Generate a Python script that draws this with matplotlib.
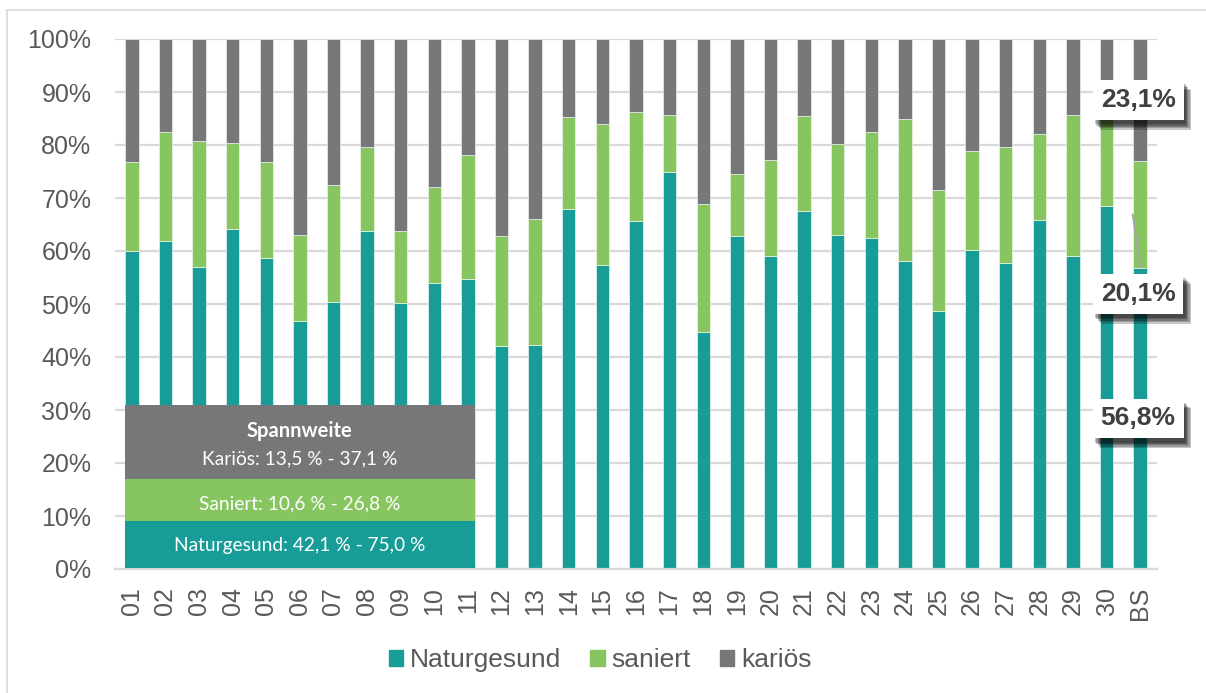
import matplotlib
matplotlib.use("Agg")
import matplotlib.pyplot as plt
import matplotlib.patheffects as pe
from matplotlib.patches import Patch, Rectangle
from matplotlib.lines import Line2D
import numpy as np

plt.rcParams['font.family'] = ['Liberation Sans', 'DejaVu Sans']

# Anteile je Schule in Prozent
schulen = ['01', '02', '03', '04', '05', '06', '07', '08', '09', '10',
           '11', '12', '13', '14', '15', '16', '17', '18', '19', '20',
           '21', '22', '23', '24', '25', '26', '27', '28', '29', '30', 'BS']
naturgesund = [60.0, 61.8, 56.9, 64.1, 58.7, 46.7, 50.4, 63.8, 50.1, 53.9,
               54.7, 42.1, 42.3, 67.9, 57.3, 65.6, 75.0, 44.8, 62.9, 59.1,
               67.5, 63.1, 62.5, 58.1, 48.7, 60.2, 57.7, 65.8, 59.1, 68.4, 56.8]
saniert = [16.7, 20.7, 23.9, 16.3, 18.1, 16.3, 22.1, 15.8, 13.7, 18.2,
           23.4, 20.8, 23.7, 17.3, 26.7, 20.7, 10.6, 24.1, 11.6, 18.0,
           18.0, 17.0, 20.0, 26.8, 22.8, 18.6, 22.0, 16.2, 26.6, 18.1, 20.1]
karioes = [23.3, 17.5, 19.2, 19.6, 23.2, 37.0, 27.5, 20.4, 36.2, 27.9,
           21.9, 37.1, 34.0, 14.8, 16.0, 13.7, 14.4, 31.1, 25.5, 22.9,
           14.5, 19.9, 17.5, 15.1, 28.5, 21.2, 20.3, 18.0, 14.3, 13.5, 23.1]

spannweite = ['Kariös: 13,5 % - 37,1 %', 'Saniert: 10,6 % - 26,8 %',
              'Naturgesund: 42,1 % - 75,0 %']

TEAL = '#179c97'
GREEN = '#86c55f'
GREY = '#767779'
TXT = '#595959'

fig = plt.figure(figsize=(12.06, 6.93), dpi=100)
ax = fig.add_axes([115 / 1206, 1 - 569 / 693, 1042 / 1206, 530 / 693])

x = np.arange(len(schulen))
w = 0.4
nat = np.array(naturgesund)
san = np.array(saniert)
kar = np.array(karioes)
ax.bar(x, nat, w, color=TEAL, edgecolor='#e8f4f3', linewidth=0.5, zorder=2)
ax.bar(x, san, w, bottom=nat, color=GREEN, edgecolor='#eef6e8', linewidth=0.5, zorder=2)
ax.bar(x, kar, w, bottom=nat + san, color=GREY, edgecolor='#eeeeee', linewidth=0.5, zorder=2)

ax.set_xlim(-0.5, len(schulen) - 0.5)
ax.set_ylim(0, 100)
ax.set_yticks(np.arange(0, 101, 10))
ax.set_yticklabels([f'{v}%' for v in range(0, 101, 10)])
ax.set_xticks(x)
ax.set_xticklabels(schulen, rotation=90)
ax.tick_params(axis='both', length=0, labelsize=18, colors=TXT)
ax.tick_params(axis='y', pad=17)
ax.tick_params(axis='x', pad=13)
ax.grid(axis='y', color='#d9d9d9', linewidth=1.6, zorder=0)
ax.set_axisbelow(True)
for s in ['top', 'right', 'left']:
    ax.spines[s].set_visible(False)
ax.spines['bottom'].set_color('#d9d9d9')
ax.spines['bottom'].set_linewidth(1.6)

# Kasten mit der Spannweite
box_x0, box_x1 = -0.2, 10.2
segs = [(17.0, 30.9, GREY), (9.06, 17.0, GREEN), (0.2, 9.06, TEAL)]
for y0, y1, c in segs:
    ax.add_patch(Rectangle((box_x0, y0), box_x1 - box_x0, y1 - y0,
                           facecolor=c, edgecolor='none', zorder=4))
bf = ['Lato', 'DejaVu Sans']
ax.text(5.0, 26.0, 'Spannweite', ha='center', va='center', color='white',
        fontsize=14.5, fontweight='bold', family=bf, zorder=5)
ax.text(5.0, 20.8, spannweite[0], ha='center', va='center', color='white',
        fontsize=13.8, family=bf, zorder=5)
ax.text(5.0, 12.2, spannweite[1], ha='center', va='center', color='white',
        fontsize=13.8, family=bf, zorder=5)
ax.text(5.0, 4.5, spannweite[2], ha='center', va='center', color='white',
        fontsize=13.8, family=bf, zorder=5)

# Beschriftung der BS-Säule
bs = len(schulen) - 1
ax.add_line(Line2D([bs - 0.22, bs], [nat[bs] + san[bs] / 2, 57.0],
                   color='#a6a6a6', linewidth=1.4, zorder=3))
label_y = [nat[bs] / 2, 51.9, nat[bs] + san[bs] + kar[bs] / 2]
label_v = [nat[bs], san[bs], kar[bs]]
shadow = [pe.withSimplePatchShadow(offset=(d, -d - 1.5), shadow_rgbFace='black', alpha=0.22)
          for d in (1.5, 2.5, 3.5, 4.5, 5.5)]
for yy, v in zip(label_y, label_v):
    t = ax.text(bs - 0.06, yy, f'{v:.1f}%'.replace('.', ','), ha='center', va='center',
                fontsize=19, fontweight='bold', color='#404040', zorder=6,
                bbox=dict(boxstyle='square,pad=0.3', facecolor='white', edgecolor='none'))
    t.get_bbox_patch().set_path_effects(shadow + [pe.Normal()])

handles = [Patch(color=TEAL), Patch(color=GREEN), Patch(color=GREY)]
fig.legend(handles, ['Naturgesund', 'saniert', 'kariös'], loc='center',
           bbox_to_anchor=(600 / 1206, 1 - 660 / 693), ncol=3, frameon=False,
           fontsize=19, labelcolor=TXT, handlelength=0.55, handleheight=0.55,
           handletextpad=0.25, columnspacing=1.1)

# Rahmen oben und links
fig.add_artist(Line2D([7 / 1206, 7 / 1206], [0, 1 - 10 / 693], color='#d9d9d9',
                      linewidth=1.2, transform=fig.transFigure))
fig.add_artist(Line2D([7 / 1206, 1], [1 - 10 / 693, 1 - 10 / 693], color='#d9d9d9',
                      linewidth=1.2, transform=fig.transFigure))

fig.savefig('out.png', dpi=100)
